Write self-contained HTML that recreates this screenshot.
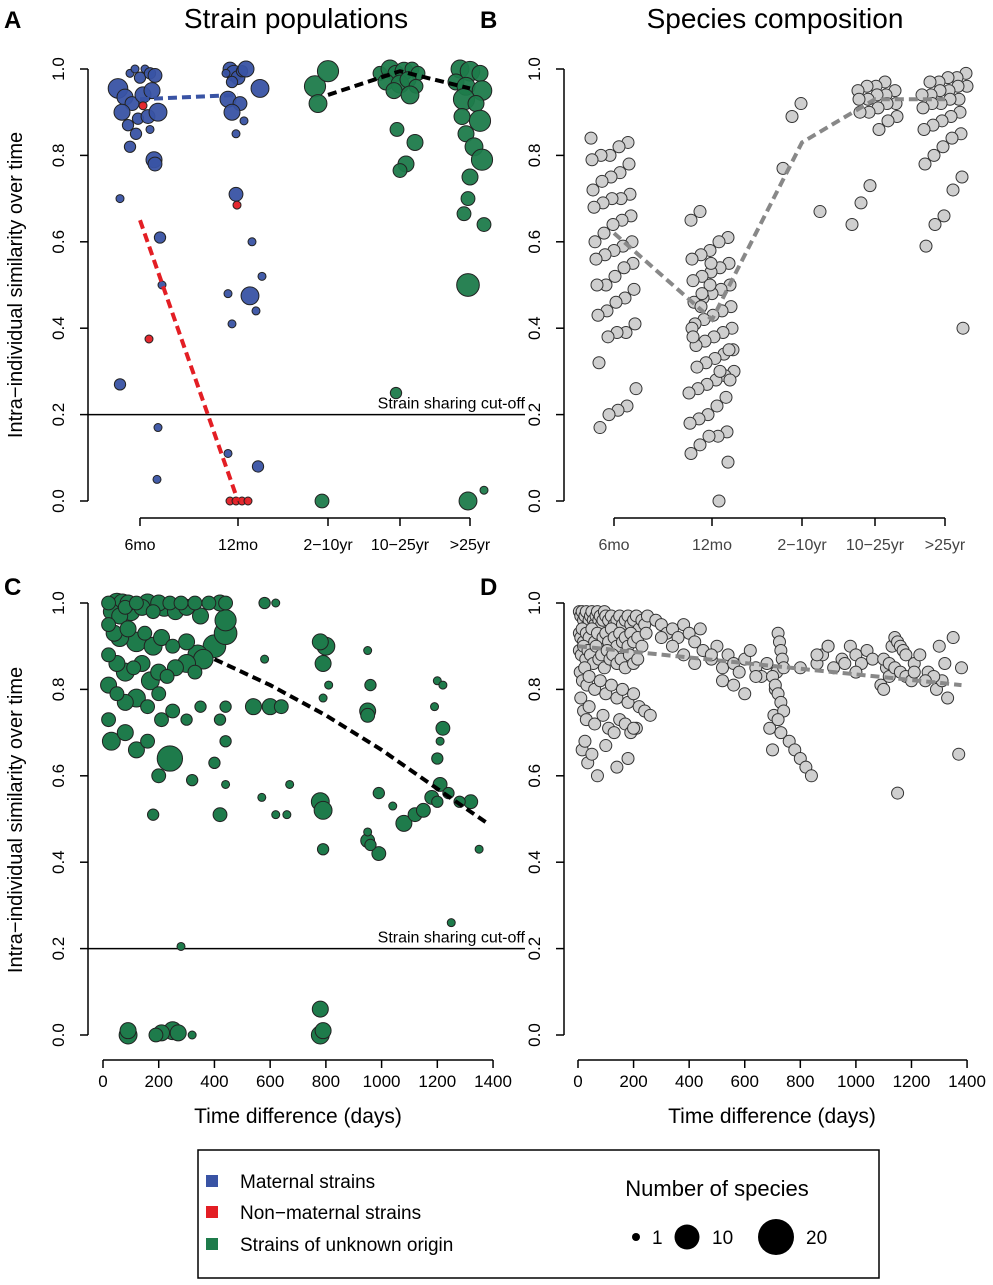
<!DOCTYPE html>
<html><head><meta charset="utf-8"><style>
body{margin:0;background:#fff;}
svg{font-family:"Liberation Sans",Arial,sans-serif;}
</style></head><body>
<svg id="s" width="993" height="1280" viewBox="0 0 993 1280" xmlns="http://www.w3.org/2000/svg">
<text x="4" y="28" font-size="24" font-weight="bold">A</text>
<text x="480" y="28" font-size="24" font-weight="bold">B</text>
<text x="4" y="595" font-size="24" font-weight="bold">C</text>
<text x="480" y="595" font-size="24" font-weight="bold">D</text>
<text x="296" y="28" font-size="28" text-anchor="middle">Strain populations</text>
<text x="775" y="28" font-size="28" text-anchor="middle">Species composition</text>
<text transform="translate(22,285) rotate(-90)" font-size="20" text-anchor="middle">Intra−individual similarity over time</text>
<text transform="translate(22,820) rotate(-90)" font-size="20" text-anchor="middle">Intra−individual similarity over time</text>
<text x="298" y="1123" font-size="21" text-anchor="middle">Time difference (days)</text>
<text x="772" y="1123" font-size="21" text-anchor="middle">Time difference (days)</text>
<g>
<rect x="198" y="1150" width="681" height="128" fill="#fff" stroke="#000" stroke-width="1.5"/>
<rect x="206" y="1175" width="12" height="12" fill="#3953a4"/>
<text x="240" y="1188" font-size="19">Maternal strains</text>
<rect x="206" y="1206" width="12" height="12" fill="#e31e24"/>
<text x="240" y="1219" font-size="19">Non−maternal strains</text>
<rect x="206" y="1238" width="12" height="12" fill="#1e7b4b"/>
<text x="240" y="1251" font-size="19">Strains of unknown origin</text>
<text x="717" y="1196" font-size="22" text-anchor="middle">Number of species</text>
<circle cx="636" cy="1237" r="4" fill="#000"/>
<text x="652" y="1244" font-size="19">1</text>
<circle cx="687" cy="1237" r="12.5" fill="#000"/>
<text x="712" y="1244" font-size="19">10</text>
<circle cx="776" cy="1237" r="18" fill="#000"/>
<text x="806" y="1244" font-size="19">20</text>
</g>
</svg>
<script>
// ---- data ----
const catLabels=["6mo","12mo","2−10yr","10−25yr",">25yr"];
const yTicks=[0,0.2,0.4,0.6,0.8,1.0];
const yTickLabels=["0.0","0.2","0.4","0.6","0.8","1.0"];
const dayTicks=[0,200,400,600,800,1000,1200,1400];
// Panel A: category index, jitter (px), similarity, species count, type
const aCat=[0,0,0,0,0,0,0,0,0,0,0,0,0,0,0,0,0,0,0,0,0,0,0,0,0,0,0,0,0,
 1,1,1,1,1,1,1,1,1,1,1,1,1,1,1,1,1,1,1,1,1,1,1,1,1,1,1,
 2,2,2,2,
 3,3,3,3,3,3,3,3,3,3,3,3,3,3,3,3,3,
 4,4,4,4,4,4,4,4,4,4,4,4,4,4,4,4,4,4,4,4];
const aJit=[-22,-10,-5,0,5,10,15,-15,-8,3,12,-18,-2,8,18,-12,-4,10,-10,14,15,-20,20,22,-20,18,17,3,9,
 -8,-4,0,4,8,-12,-6,22,-10,2,-6,6,-2,-2,14,24,-10,12,18,-6,-10,20,-1,-8,-2,4,10,
 -13,0,-10,-6,
 -20,-10,-4,4,12,18,-14,0,8,16,-6,10,-3,15,6,0,-4,
 -10,0,10,-14,-4,12,-6,6,-8,10,-4,4,12,0,-2,-6,14,-2,-2,14];
const aVal=[.955,.99,1,.98,1,.99,.985,.935,.92,.94,.95,.9,.885,.89,.9,.87,.85,.86,.82,.79,.78,.7,.61,.5,.27,.17,.05,.915,.375,
 1,.99,.98,.995,1,.99,.97,.955,.93,.92,.9,.88,.85,.71,.6,.52,.48,.475,.44,.41,.11,.08,.685,0,0,0,0,
 .96,.995,.92,0,
 .99,1,.99,.995,1,.99,.97,.965,.975,.96,.95,.94,.86,.83,.78,.765,.25,
 1,.995,.99,.97,.96,.95,.93,.92,.89,.88,.85,.82,.79,.75,.70,.665,.64,.5,0,.025];
const aN=[6,1,1,2,1,2,3,4,3,4,4,4,2,3,5,2,2,1,2,4,3,1,2,1,2,1,1,1,1,
 3,4,3,2,4,1,2,5,4,3,4,1,1,3,1,1,1,5,1,1,1,2,1,1,1,1,1,
 7,7,5,3,
 3,5,4,5,3,3,4,5,4,3,4,5,3,4,4,3,2,
 5,6,4,4,5,6,7,4,4,7,4,5,7,4,3,3,3,8,5,1];
const aType=("m".repeat(27)+"nn"+"m".repeat(22)+"nnnnn"+"u".repeat(41)).split("");
const aMatLine=[.93,.94], aNonLine=[.65,0], aUnkLine=[.94,.995,.955];
// Panel B: values per category
const b0=[.84,.83,.82,.8,.8,.79,.78,.76,.75,.74,.72,.71,.7,.7,.69,.68,.66,.65,.64,.62,.6,.6,.59,.58,.57,.56,.55,.54,.52,.5,.5,.49,.47,.46,.44,.43,.41,.39,.39,.38,.32,.26,.22,.21,.2,.17];
const b1=[.67,.65,.61,.6,.58,.57,.56,.55,.54,.53,.52,.51,.5,.49,.48,.47,.46,.45,.44,.43,.42,.41,.4,.39,.38,.37,.36,.35,.34,.33,.32,.31,.3,.29,.28,.27,.26,.25,.24,.22,.2,.19,.18,.16,.15,.15,.13,.11,.09,0,.5,.45,.4,.35,.3,.55,.48,.38,.28];
const b2=[.92,.89,.77,.67];
const b3=[.97,.96,.96,.95,.95,.94,.94,.93,.93,.92,.92,.91,.9,.9,.89,.88,.86,.73,.69,.64];
const b4=[.99,.98,.98,.97,.97,.96,.96,.95,.95,.94,.94,.93,.93,.92,.92,.91,.9,.89,.88,.87,.86,.85,.84,.82,.8,.78,.75,.72,.66,.64,.59,.4];
const bMedian=[.62,.42,.83,.93,.93];
// Panel C: days, similarity, species count
const cDay=[20,30,40,50,60,70,80,90,100,120,140,160,180,200,220,240,260,280,300,330,350,380,420,440,440,20,40,60,90,120,150,180,210,250,300,340,400,440,20,50,80,110,140,170,200,230,260,300,330,360,20,50,80,120,160,200,250,300,350,420,440,20,30,80,120,160,200,210,240,320,400,180,420,440,440,570,580,620,580,540,600,640,620,660,670,780,800,790,810,790,780,790,790,950,960,950,950,950,950,960,990,990,1040,1080,1120,1150,1180,1200,1210,1200,1210,1220,1190,1200,1220,1240,1280,1320,1350,1250,280,90,90,190,210,250,270,320,780,780,790];
const cVal=[1,.98,.99,1,.97,1,.99,1,.98,1,.99,1,.98,1,.99,1,.98,1,.99,1,.97,1,1,1,.96,.95,.93,.92,.94,.91,.93,.9,.92,.9,.91,.88,.9,.93,.88,.86,.84,.85,.86,.82,.84,.83,.85,.86,.84,.87,.81,.79,.77,.78,.76,.79,.75,.73,.76,.73,.76,.73,.68,.7,.66,.68,.6,.73,.64,.59,.63,.51,.51,.58,.68,.55,1,1,.87,.76,.76,.76,.51,.51,.58,.91,.9,.86,.81,.78,.54,.52,.43,.89,.81,.75,.74,.47,.45,.44,.42,.56,.53,.49,.51,.52,.55,.54,.58,.64,.68,.71,.76,.82,.81,.56,.54,.54,.43,.26,.205,0,.01,0,.005,.01,.005,0,0,.06,.01];
const cN=[3,4,5,6,4,5,3,4,5,3,4,5,3,4,5,3,4,3,4,3,4,3,4,3,7,3,4,5,4,6,3,5,4,3,4,6,8,8,3,4,5,3,4,5,4,3,4,5,3,6,4,3,4,5,3,3,3,2,2,2,2,3,5,4,4,3,3,3,10,2,2,2,3,1,2,1,2,1,1,4,4,3,1,1,1,4,5,4,1,1,5,5,2,1,2,4,3,1,3,2,3,2,1,4,3,3,3,2,3,2,1,3,1,1,1,2,2,3,1,1,1,5,4,3,4,5,4,1,5,4,4];
const cFit=[.87,.81,.74,.66,.57,.49], cFitDays=[400,600,800,1000,1200,1380];
// Panel D: days, similarity
const dDay=[5,10,15,20,25,30,35,40,45,50,55,60,65,70,75,80,85,90,95,100,110,120,130,140,150,160,170,180,190,200,210,220,230,240,250,5,10,15,20,30,40,50,60,70,80,90,100,110,120,130,140,150,160,170,180,190,200,215,230,245,5,12,20,28,36,45,55,65,75,85,95,105,115,125,140,155,170,185,200,215,8,16,24,32,40,60,80,100,120,140,160,180,200,220,240,10,20,30,40,60,90,110,130,150,170,190,210,15,25,35,50,70,100,140,180,200,260,280,300,320,340,360,380,400,420,440,300,340,380,420,450,480,500,520,540,560,580,600,620,640,660,680,480,520,560,600,640,690,700,705,710,715,720,725,730,735,740,700,710,720,730,740,720,730,760,780,800,820,840,860,880,900,920,950,980,1000,1020,1040,1060,800,860,900,960,1000,1090,1100,1110,1120,1130,1140,1150,1160,1170,1180,1100,1120,1140,1160,1180,1200,1210,1230,1260,1290,1310,1330,1350,1370,1150,1210,1280,1320,1380,1250,1300];
const dVal=[.98,.97,.98,.96,.97,.98,.95,.96,.97,.98,.96,.95,.97,.98,.96,.97,.95,.96,.98,.97,.96,.97,.95,.96,.97,.95,.96,.97,.95,.96,.97,.94,.96,.95,.97,.93,.92,.94,.91,.93,.92,.94,.91,.93,.9,.92,.93,.91,.94,.92,.9,.93,.91,.92,.9,.93,.91,.92,.9,.93,.89,.88,.9,.87,.89,.88,.86,.9,.87,.88,.85,.89,.87,.88,.86,.87,.85,.88,.86,.87,.84,.82,.85,.81,.83,.8,.82,.79,.81,.78,.8,.77,.79,.76,.75,.78,.75,.73,.76,.72,.74,.71,.7,.73,.72,.7,.71,.66,.68,.63,.65,.6,.67,.62,.64,.71,.74,.96,.95,.93,.94,.92,.95,.93,.91,.94,.92,.9,.88,.86,.89,.87,.9,.85,.88,.86,.84,.87,.89,.85,.83,.86,.88,.82,.81,.79,.83,.71,.66,.74,.8,.84,.93,.91,.89,.87,.85,.83,.81,.79,.77,.75,.73,.7,.68,.66,.64,.62,.6,.86,.88,.9,.85,.87,.9,.88,.86,.89,.87,.85,.88,.9,.86,.84,.81,.8,.85,.83,.9,.92,.91,.9,.89,.88,.87,.86,.85,.84,.83,.82,.86,.88,.84,.8,.82,.78,.92,.65,.56,.84,.83,.86,.85,.82,.9,.88,.87,.85,.86,.83,.8,.68,.69,.81,.79];
const dFit=[.9,.81], dFitDays=[0,1380];
// ---- drawing ----
const S=document.getElementById('s'), NS="http://www.w3.org/2000/svg";
function mk(tag,at,par){const e=document.createElementNS(NS,tag);for(const k in at)e.setAttribute(k,at[k]);(par||S).appendChild(e);return e;}
const yA=v=>501-v*432, yC=v=>1035-v*432;
const xCatA=[140,238,328,400,470], xCatB=[614,712,802,875,945];
const xC=d=>103+d*0.2786, xD=d=>578+d*0.2779;
const rN=n=>4*Math.sqrt(n);
const col={m:"#3953a4",n:"#e31e24",u:"#1e7b4b"};
function yAxis(x,yf,nm){
 const g=mk('g',{});
 
 
 mk('line',{x1:x,x2:x,y1:yf(0),y2:yf(1),stroke:"#000","stroke-width":1.5},g);
 yTicks.forEach((t,i)=>{
  mk('line',{x1:x-8,x2:x,y1:yf(t),y2:yf(t),stroke:"#000","stroke-width":1.5},g);
  const tx=mk('text',{transform:`translate(${x-24},${yf(t)}) rotate(-90)`,"font-size":17,"text-anchor":"middle"},g);
  tx.textContent=yTickLabels[i];
  
  
 });
}
function xCatAxis(xs,y,nm,fill){
 const g=mk('g',{});
 
 
 mk('line',{x1:xs[0],x2:xs[4],y1:y,y2:y,stroke:"#000","stroke-width":1.5},g);
 xs.forEach((x,i)=>{
  mk('line',{x1:x,x2:x,y1:y,y2:y+8,stroke:"#000","stroke-width":1.5},g);
  const tx=mk('text',{x:x,y:y+32,"font-size":16,"text-anchor":"middle",fill:fill},g);
  tx.textContent=catLabels[i];
  
  
 });
}
function xNumAxis(xf,y,nm){
 const g=mk('g',{});
 
 
 mk('line',{x1:xf(0),x2:xf(1400),y1:y,y2:y,stroke:"#000","stroke-width":1.5},g);
 dayTicks.forEach(t=>{
  mk('line',{x1:xf(t),x2:xf(t),y1:y,y2:y+8,stroke:"#000","stroke-width":1.5},g);
  const tx=mk('text',{x:xf(t),y:y+27,"font-size":17,"text-anchor":"middle"},g);
  tx.textContent=t;
  
  
 });
}
function cutoff(y,nm){
 const l=mk('line',{x1:88,x2:525,y1:y,y2:y,stroke:"#000","stroke-width":1.5});
 
 
 const t=mk('text',{x:525,y:y-6,"font-size":16,"text-anchor":"end"});
 t.textContent="Strain sharing cut-off";
 
 
}
function dline(pts,color,nm){
 const p=mk('polyline',{points:pts.map(q=>q.join(',')).join(' '),fill:"none",stroke:color,"stroke-width":4,"stroke-dasharray":"9,5"});
 
 
}
yAxis(88,yA,'y-axis-a'); yAxis(564,yA,'y-axis-b'); yAxis(88,yC,'y-axis-c'); yAxis(564,yC,'y-axis-d');
xCatAxis(xCatA,518,'x-axis-a',"#000"); xCatAxis(xCatB,518,'x-axis-b',"#444");
xNumAxis(xC,1060,'x-axis-c'); xNumAxis(xD,1060,'x-axis-d');
cutoff(yA(0.2),'cutoff-line-a'); cutoff(yC(0.2),'cutoff-line-c');
// Panel A points
const gA=mk('g',{});


aVal.forEach((v,i)=>{
 const c=mk('circle',{cx:xCatA[aCat[i]]+aJit[i],cy:yA(v),r:rN(aN[i]),fill:col[aType[i]],stroke:"#222","stroke-width":1,"fill-opacity":0.95},gA);
 
 
});
dline([[xCatA[0],yA(aMatLine[0])],[xCatA[1],yA(aMatLine[1])]],"#3953a4",'trend-maternal');
dline([[xCatA[0],yA(aNonLine[0])],[xCatA[1],yA(aNonLine[1])]],"#e31e24",'trend-non-maternal');
dline(aUnkLine.map((v,i)=>[xCatA[i+2],yA(v)]),"#000",'trend-unknown');
// Panel B points
const gB=mk('g',{});


[b0,b1,b2,b3,b4].forEach((arr,ci)=>{
 arr.forEach((v,i)=>{
  const j=((i*37+ci*11)%46)-23;
  const c=mk('circle',{cx:xCatB[ci]+j,cy:yA(v),r:6,fill:"#cfcfcf",stroke:"#333","stroke-width":1},gB);
  
  
 });
});
dline(bMedian.map((v,i)=>[xCatB[i],yA(v)]),"#888",'trend-species-b');
// Panel C
const gC=mk('g',{});


cDay.map((d,i)=>i).sort((a,b)=>cN[b]-cN[a]).forEach(i=>{
 const c=mk('circle',{cx:xC(cDay[i]),cy:yC(cVal[i]),r:rN(cN[i]),fill:"#1e7b4b",stroke:"#222","stroke-width":1},gC);
 
 
});
dline(cFit.map((v,i)=>[xC(cFitDays[i]),yC(v)]),"#000",'trend-c');
// Panel D
const gD=mk('g',{});


dDay.forEach((d,i)=>{
 const c=mk('circle',{cx:xD(d),cy:yC(dVal[i]),r:6,fill:"#cfcfcf",stroke:"#333","stroke-width":1},gD);
 
 
});
dline(dFit.map((v,i)=>[xD(dFitDays[i]),yC(v)]),"#888",'trend-d');
</script>
</body></html>
